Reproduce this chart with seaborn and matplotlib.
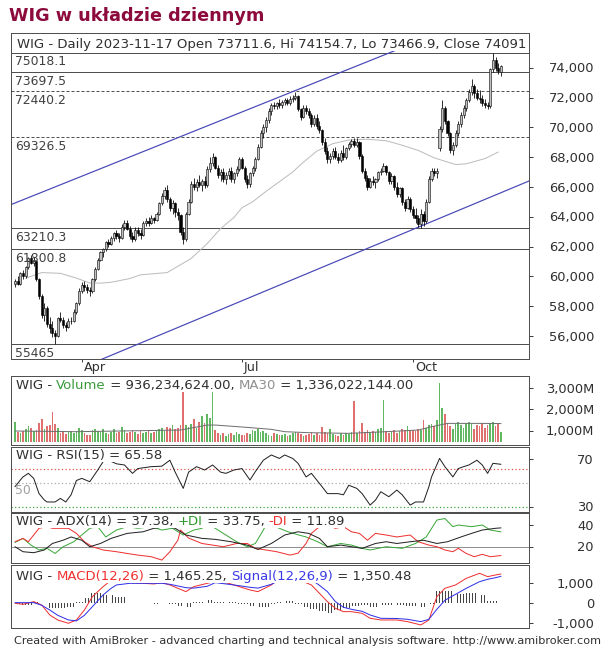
import numpy as np
import matplotlib
matplotlib.use("Agg")
import matplotlib.pyplot as plt
import seaborn as sns

W, H, DPI = 602, 654, 72

# ---------------- data ----------------
opens = [59500,59700,59500,60200,60000,60600,61200,60900,61000,59800,
         58700,57400,57900,56800,56500,56200,56000,57200,57100,56700,
         56600,57000,57000,57600,58200,59000,59400,59300,59100,59000,
         59800,60500,61100,61600,61800,62300,62200,62600,62900,62700,
         62600,63300,63600,63200,62700,62500,63100,62900,62800,63600,
         63700,63600,63900,63800,64200,64900,65400,65800,65200,64600,
         64900,64300,64100,63000,62500,64200,65000,66200,66000,66300,
         66100,66400,66100,67200,67600,68000,67300,66800,67000,66500,
         66800,67100,66500,66900,67200,67900,67300,66500,66200,66900,
         67300,67900,68700,69600,70000,70500,71100,71500,71400,71600,
         71500,71700,71800,71600,71900,72000,72100,71200,70700,71300,
         71100,70800,70200,70600,70100,69800,69000,68400,67900,68100,
         68400,68000,67800,68300,68000,68600,68900,69100,68800,69000,
         68100,67100,66600,66000,66400,66300,66500,67000,67100,67400,
         67000,66400,66700,66000,65500,65900,65000,64600,65200,64500,
         64100,63900,63500,64200,63700,65000,66500,67100,66900,68600,
         69900,71300,70400,69600,68500,68800,69600,70200,70800,71300,
         71800,72400,72800,72300,72000,71900,71600,71500,71400,73900,
         74500,74000,73711.6]
highs = [59800,60000,60300,60400,60700,61300,61400,61300,61100,59900,
         58800,58200,58000,57300,57000,56400,57300,57600,57300,56900,
         57200,57300,57800,58300,59200,59600,59700,59500,59300,59900,
         60600,61200,61700,61900,62400,62500,62700,63000,63100,62900,
         63500,63800,63750,63400,63000,63300,63300,63200,63700,63900,
         64000,64100,64000,64300,65000,65600,66000,66100,65300,65100,
         65000,64600,64200,63300,64300,65200,66400,66600,66500,66800,
         66500,66700,67400,68000,68300,68100,67500,67200,67300,67000,
         67300,67350,67000,67400,68000,68000,67400,66800,67000,67400,
         68000,68900,69800,70200,70700,71300,71600,71700,71700,71900,
         71800,72000,72000,72100,72200,72350,72200,71300,71500,71500,
         71300,70950,70800,70900,70400,69900,69300,68700,68300,68600,
         68700,68300,68500,68800,68700,69000,69200,69300,69300,69100,
         68200,67300,66800,66600,66700,66600,67100,67300,67600,67500,
         67100,66900,66800,66300,66000,66000,65200,65400,65350,64700,
         64600,64100,64500,64400,65200,66700,67300,67300,67300,70100,
         71800,71400,70500,69700,69000,69800,70400,71000,71500,72000,
         72600,73250,72900,72600,72500,72200,71900,71700,74000,75018.1,
         74700,74300,74154.7]
lows = [59300,59400,59400,59800,59900,60500,60800,60700,59700,58500,
        57200,57000,56600,56200,55900,55465,55900,56900,56500,56300,
        56500,56800,56900,57500,58100,58900,59000,58900,58700,58900,
        59700,60400,61000,61300,61700,62000,62100,62400,62500,62300,
        62500,63100,63100,62500,62300,62400,62700,62500,62700,63400,
        63400,63500,63600,63700,64100,64800,65200,65000,64400,64200,
        64000,63800,62800,62200,62400,64100,64900,65800,65700,66000,
        65700,65900,66000,67000,67400,67200,66600,66400,66300,66200,
        66500,66300,66250,66700,67100,67200,66300,65900,66000,66700,
        67100,67800,68600,69300,69700,70300,70800,71200,71200,71300,
        71300,71500,71500,71500,71700,71800,71100,70500,70600,70900,
        70600,70000,70100,69900,69600,68800,68200,67600,67600,67900,
        67900,67600,67700,67800,67900,68500,68700,68700,68700,67900,
        66900,66400,65800,65900,66100,65900,66400,66800,67000,66800,
        66200,66200,65800,65300,65300,64800,64400,64500,64300,63900,
        63600,63300,63210.3,63400,63600,64900,66400,66700,66600,68400,
        69700,70200,69400,68300,68150,68700,69400,70000,70600,71100,
        71700,72200,72000,71800,71600,71400,71300,71200,71300,73700,
        73800,73600,73466.9]
closes = [59700,59500,60200,60000,60600,61200,60900,61100,59800,58700,
          57400,57900,56800,56500,56200,56000,57200,57100,56700,56600,
          57000,57000,57600,58200,59000,59400,59300,59100,59000,59800,
          60500,61100,61600,61800,62300,62200,62600,62900,62700,62600,
          63300,63600,63200,62700,62500,63100,62900,62800,63600,63700,
          63600,63900,63800,64200,64900,65400,65800,65200,64600,64900,
          64300,64100,63000,62500,64200,65000,66200,66000,66300,66100,
          66400,66100,67200,67600,68000,67300,66800,67000,66500,66800,
          67100,66500,66900,67200,67900,67300,66500,66200,66900,67300,
          67900,68700,69600,70000,70500,71100,71500,71400,71600,71500,
          71700,71800,71600,71900,72000,72100,71200,70700,71300,71100,
          70800,70200,70600,70100,69800,69000,68400,67900,68100,68400,
          68000,67800,68300,68000,68600,68900,69100,68800,69000,68100,
          67100,66600,66000,66400,66300,66500,67000,67100,67400,67000,
          66400,66700,66000,65500,65900,65000,64600,65200,64500,64100,
          63900,63500,64200,63700,65000,66500,67100,66900,67100,69900,
          71300,70400,69600,68500,68800,69600,70200,70800,71300,71800,
          72400,72800,72300,72000,71900,71600,71500,71400,73900,74500,
          74000,73800,74091]
volume_m = [1390,950,880,1000,1080,1200,1150,980,1050,1350,
            1530,1100,1200,1250,1900,1300,1120,900,1000,850,
            920,980,870,1000,1150,1050,900,820,780,1050,
            1100,1000,920,1080,900,850,960,1100,880,940,
            1190,1020,880,930,1050,960,830,1000,880,920,
            1000,890,950,1030,1100,1150,1000,1180,1120,1270,
            1080,1150,1270,2880,1250,1180,1300,1530,1150,1400,
            1700,1350,1800,1600,2870,1050,880,820,900,760,
            850,900,800,950,860,780,820,900,850,1050,
            980,1100,920,1000,870,820,760,900,850,800,
            780,860,740,820,900,950,880,830,760,800,
            850,920,780,880,820,1190,940,880,1100,850,
            800,760,880,820,900,860,950,2400,880,1000,
            1340,950,1050,880,1000,920,1100,1150,2470,1000,
            880,950,1050,900,980,1100,1050,1200,980,1050,
            1000,1100,1050,1500,1150,1250,1300,1200,1500,3240,
            2050,1810,1340,1200,1100,1300,1400,1250,1150,1350,
            1420,1300,1100,1250,1200,1380,1150,1250,1380,1400,
            1200,1350,936]

month_ticks = [25, 85, 149]
month_labels = ["Apr", "Jul", "Oct"]

levels = [75018.1, 73697.5, 72440.2, 69326.5, 63210.3, 61800.8, 55465]
level_labels = ["75018.1", "73697.5", "72440.2", "69326.5", "63210.3", "61800.8", "55465"]
level_dashed = [False, False, True, True, False, False, False]

ma_idx = [4,10,17,23,28,32,36,43,47,57,66,72,77,82,85,89,94,104,107,113,119,125,132,139,144,151,157,165,169,176,181]
ma_val = [59870,60250,60200,59880,59550,59540,59600,59850,60100,60250,61200,62200,63200,63950,64600,
          65000,65700,67000,67500,68400,68900,69150,69200,69100,68850,68450,67950,67500,67550,67900,68340]

upper_chan_idx = [-1.5, 143.8]
upper_chan_val = [64812, 75255]
lower_chan_idx = [32.0, 192.5]
lower_chan_val = [54397, 66396]

vma_idx = [0, 23, 62, 72, 75, 87, 96, 101, 110, 125, 139, 151, 156, 162, 175, 182]
vma_val = [985, 953, 1031, 1266, 1266, 1156, 1063, 953, 906, 875, 953, 1031, 1188, 1344, 1344, 1336]

rsi_idx = [0,2,3,5,7,9,11,12,15,17,19,21,23,25,28,31,33,35,38,41,44,46,51,55,58,60,63,65,68,71,
           74,77,79,82,85,88,90,93,96,99,101,104,106,109,111,113,115,117,121,123,125,128,130,133,135,
           137,140,143,145,148,150,153,155,156,159,161,164,166,168,170,173,175,177,179,182]
rsi_val = [46.8,52.4,55,58,53.8,41,35.6,34,34,37,34,40,52,53.8,51,60.8,67.8,69,66,65,58,62,63.6,64,69,
           59,45.4,59,63.6,60.8,65,59,58,60.8,62,52.4,59.4,69,73.4,70.5,73.4,70.5,66.4,55,58,52.4,46.8,
           41,41,40,48,45.4,41,31.4,35.6,42.6,38.4,44,40,31.4,34,34,46.8,55,70.5,63.6,55,62,63.6,65,69,
           65,58,66.4,65.58]

adx_idx = [0,3,7,11,14,18,21,25,28,32,36,42,48,52,57,60,64,70,75,81,87,91,96,101,106,110,114,117,122,
           126,130,135,139,143,148,153,158,162,167,171,175,180,182]
adx_val = [20,15.4,14.5,17,23,26,29,26,20,23,27.7,32.3,33.8,37,38.5,37,30.8,27.7,26.8,24.6,21.5,17.5,
           23,30.8,33.8,32.3,27.7,20,21.5,20,18.5,23,24.6,23,24.6,26,23,24.6,29,32.3,35.4,37,37.38]
pdi_idx = [0,3,6,9,12,15,18,22,25,28,31,34,38,42,46,51,55,59,63,67,70,72,75,79,83,87,90,93,94,98,102,
           106,109,113,117,122,126,130,133,139,145,150,154,158,161,164,166,171,175,178,182]
pdi_val = [24,27.7,21.5,17,18.5,13.8,20,24.6,30.8,37,38.5,29,35.4,38.5,37,38.5,35.4,37,30.8,35.4,37,
           41.5,37,30.8,24.6,20,23,35.4,40,38,34,31,29,25,20,23,21.5,18.5,17,20,18.5,23,29,44.6,46,38.5,
           40,38.5,40,35.4,33.75]
mdi_idx = [0,3,5,9,12,14,20,23,26,29,33,38,42,46,51,55,58,61,62,65,70,74,78,83,87,90,94,98,103,106,
           109,111,114,117,120,123,126,129,132,135,139,143,148,151,155,158,161,164,166,169,172,175,178,182]
mdi_val = [24.6,27.7,24.6,37,38.5,37,37,32.3,24.6,20,17,15.4,13.8,12.3,10.8,7.7,15.4,26,35.4,28,23,21.5,
           20,23,23,18.5,17,15.4,12.3,14,23,32.3,38.5,40,37,38.5,33.8,32.3,26,32.3,30.8,29,30.8,24.6,
           21.5,20,17,15.4,18.5,13.8,10.8,13,10.8,11.89]

macd_idx = [0,3,7,10,13,16,20,23,26,29,33,36,38,43,48,52,55,58,61,64,67,72,75,80,84,88,91,96,98,101,
            105,108,111,114,117,120,123,126,130,133,137,143,147,152,155,158,161,165,169,174,177,180,182]
macd_val = [0,-50,83,-83,-583,-833,-1000,-833,-333,333,833,1150,1250,1033,1000,967,1033,917,750,583,
            833,1000,1083,1000,833,667,583,917,1167,1300,1250,1083,917,500,83,-250,-417,-417,-500,-750,
            -833,-833,-917,-1083,-833,333,750,917,1250,1500,1333,1417,1465.25]
signal_val = [33,33,33,-100,-333,-600,-833,-880,-600,-167,417,750,917,1000,1000,1000,1000,950,867,780,
              760,850,1033,950,880,800,760,950,1083,1200,1300,1250,1180,900,583,83,-200,-300,-400,-583,
              -750,-760,-800,-917,-800,-300,150,450,750,1083,1200,1280,1350.48]

price_ticks = [56000, 58000, 60000, 62000, 64000, 66000, 68000, 70000, 72000, 74000]
vol_ticks = [1000, 2000, 3000]
rsi_ticks = [30, 70]
adx_ticks = [20, 40]
macd_ticks = [-1000, 0, 1000]

# ---------------- style ----------------
sns.set_theme(style="white")
plt.rcParams["font.family"] = ["DejaVu Sans"]
plt.rcParams["hatch.linewidth"] = 1.0

fig = plt.figure(figsize=(W / DPI, H / DPI), dpi=DPI, facecolor="white")
renderer = fig.canvas.get_renderer()


def rect(l, t, r, b):
    return [l / W, 1 - b / H, (r - l) / W, (b - t) / H]


def twidth(s, fs, weight="normal"):
    if not s:
        return 0.0
    a = fig.text(0, 0, s + "|", fontsize=fs, fontweight=weight)
    b = fig.text(0, 0, "|", fontsize=fs, fontweight=weight)
    w = a.get_window_extent(renderer).width - b.get_window_extent(renderer).width
    a.remove()
    b.remove()
    return w


def fit(s, target, weight="normal"):
    return 10.0 * target / twidth(s, 10.0, weight)


def ptext(x, yc, s, fs, color, weight="normal", ha="left", bg=None):
    kw = {}
    if bg:
        kw["bbox"] = dict(facecolor=bg, edgecolor="none", pad=0.0)
    return fig.text(x / W, 1 - (yc + 0.36 * fs) / H, s, fontsize=fs, color=color,
                    fontweight=weight, ha=ha, va="baseline", zorder=10, **kw)


def parts_text(x, yc, parts, fs, bg="white"):
    prefix = ""
    for s, col in parts:
        ptext(x + twidth(prefix, fs), yc, s, fs, col, bg=bg)
        prefix += s


XL = (-1.5, 192.5)
L, R = 11, 529
ax_p = fig.add_axes(rect(L, 33.3, R, 359.3))
ax_v = fig.add_axes(rect(L, 376, R, 445))
ax_r = fig.add_axes(rect(L, 446.5, R, 512))
ax_a = fig.add_axes(rect(L, 513, R, 563))
ax_m = fig.add_axes(rect(L, 565, R, 628))
axes = [ax_p, ax_v, ax_r, ax_a, ax_m]

o = np.array(opens, float)
h = np.array(highs, float)
lo = np.array(lows, float)
c = np.array(closes, float)
idx = np.arange(len(c))
up = c >= o

# ---- price panel ----
for v, dashed in zip(levels, level_dashed):
    ax_p.axhline(v, color="#505050", lw=1.0, ls=(0, (3, 2)) if dashed else "-", zorder=1)
sns.lineplot(x=ma_idx, y=ma_val, ax=ax_p, color="#bcbcbc", linewidth=1.0, estimator=None, sort=False, zorder=2)
sns.lineplot(x=upper_chan_idx, y=upper_chan_val, ax=ax_p, color="#4848b8", linewidth=1.2, estimator=None, zorder=2)
sns.lineplot(x=lower_chan_idx, y=lower_chan_val, ax=ax_p, color="#4848b8", linewidth=1.2, estimator=None, zorder=2)
ax_p.vlines(idx, lo, h, color="black", lw=0.8, zorder=3)
ax_p.bar(idx[up], (c - o)[up], bottom=o[up], width=0.8, color="#c0c0c0", edgecolor="black", linewidth=0.55, zorder=4)
ax_p.bar(idx[~up], (o - c)[~up], bottom=c[~up], width=0.8, color="black", edgecolor="black", linewidth=0.55, zorder=4)
ax_p.set_ylim(54430, 76309)

# ---- volume panel ----
vol = np.array(volume_m, float)
vcol = np.where(up, "#62b862", "#e07070")
vbase = 467
ax_v.bar(idx, vol - vbase, bottom=vbase, width=0.62, color=vcol, linewidth=0, zorder=2)
sns.lineplot(x=vma_idx, y=vma_val, ax=ax_v, color="#707070", linewidth=1.0, estimator=None, sort=False, zorder=3)
ax_v.set_ylim(325, 3580)

# ---- RSI ----
ax_r.axhline(62, color="#e04848", lw=1.2, ls=(0, (1, 2)), zorder=1)
ax_r.axhline(50, color="#a8a8a8", lw=1.2, ls=(0, (1, 2)), zorder=1)
ax_r.axhline(30, color="#30a030", lw=1.2, ls=(0, (1, 2)), zorder=1)
sns.lineplot(x=rsi_idx, y=rsi_val, ax=ax_r, color="#222222", linewidth=1.0, estimator=None, sort=False, zorder=3)
ax_r.set_ylim(25.6, 80.5)

# ---- ADX ----
ax_a.axhline(20, color="#909090", lw=1.0, zorder=1)
sns.lineplot(x=pdi_idx, y=pdi_val, ax=ax_a, color="#3aa83a", linewidth=1.0, estimator=None, sort=False, zorder=2)
sns.lineplot(x=mdi_idx, y=mdi_val, ax=ax_a, color="#ee3030", linewidth=1.0, estimator=None, sort=False, zorder=2)
sns.lineplot(x=adx_idx, y=adx_val, ax=ax_a, color="#222222", linewidth=1.0, estimator=None, sort=False, zorder=3)
ax_a.set_ylim(5.0, 51.1)

# ---- MACD ----
hist = np.array(macd_val) - np.array(signal_val)
hx = np.array(macd_idx, float)
hw = np.diff(np.append(hx, hx[-1] + 1.0))
ax_m.bar(hx - 0.4, hist, width=hw * 0.9, align="edge", facecolor="none", edgecolor="#454545",
         hatch="||||", linewidth=0, zorder=1)
sns.lineplot(x=macd_idx, y=macd_val, ax=ax_m, color="#f03030", linewidth=1.0, estimator=None, sort=False, zorder=2)
sns.lineplot(x=macd_idx, y=signal_val, ax=ax_m, color="#3030e8", linewidth=1.0, estimator=None, sort=False, zorder=3)
ax_m.set_ylim(-1235, 1915)

tick_sets = [price_ticks, vol_ticks, rsi_ticks, adx_ticks, macd_ticks]
for ax, tv in zip(axes, tick_sets):
    ax.set_xlim(*XL)
    ax.set_xlabel("")
    ax.set_ylabel("")
    ax.set_facecolor("white")
    for s in ax.spines.values():
        s.set_color("#505050")
        s.set_linewidth(1.0)
    ax.yaxis.tick_right()
    ax.set_yticks(tv)
    ax.tick_params(axis="y", which="both", right=True, left=False, length=4, width=1,
                   color="#404040", direction="out", labelright=False, labelleft=False)
    ax.set_xticks([])
    ax.grid(False)

ax_p.set_xticks(month_ticks)
ax_p.tick_params(axis="x", bottom=True, length=3, width=1, color="#404040", direction="out", labelbottom=False)

# ---------------- texts ----------------
TXT = "#303030"
fs_tick = fit("74,000", 45)


def right_labels(ax, vals, labels):
    for v, lab in zip(vals, labels):
        yd = ax.transData.transform((0, v))[1]
        ptext(594, H - yd, lab, fs_tick, TXT, ha="right")


right_labels(ax_p, price_ticks, [f"{v:,}" for v in price_ticks])
right_labels(ax_v, vol_ticks, [f"{v:,}M" for v in vol_ticks])
right_labels(ax_r, rsi_ticks, [str(v) for v in rsi_ticks])
right_labels(ax_a, adx_ticks, [str(v) for v in adx_ticks])
right_labels(ax_m, macd_ticks, [f"{v:,}" for v in macd_ticks])

fs_lvl = fit("75018.1", 51)
for v, lab in zip(levels, level_labels):
    yd = ax_p.transData.transform((0, v))[1]
    ptext(15, H - yd + 8.5, lab, fs_lvl, "#404040")

fs_mon = fit("Apr", 22)
for i, lab in zip(month_ticks, month_labels):
    xd = ax_p.transData.transform((i, 0))[0]
    ptext(xd + 2, 366, lab, fs_mon, TXT)

ptext(15, 490, "50", fs_lvl, "#a0a0a0")

# title
title = "WIG w układzie dziennym"
fs_title = fit(title, 255, "bold")
ptext(9, 15, title, fs_title, "#8c0a3c", weight="bold")

# panel headers
hdr_main = "WIG - Daily 2023-11-17 Open 73711.6, Hi 74154.7, Lo 73466.9, Close 74091"
fs_h = fit(hdr_main, 506)
parts_text(17, 43, [(hdr_main, TXT)], fs_h)
parts_text(16, 384, [("WIG - ", TXT), ("Volume", "#3a9a3a"), (" = 936,234,624.00, ", TXT),
                     ("MA30", "#909090"), (" = 1,336,022,144.00", TXT)], fs_h)
parts_text(16, 454, [("WIG - RSI(15) = 65.58", TXT)], fs_h)
parts_text(16, 520, [("WIG - ADX(14) = 37.38, ", TXT), ("+DI", "#2e9a2e"), (" = 33.75, ", TXT),
                     ("-DI", "#ee3030"), (" = 11.89", TXT)], fs_h)
parts_text(16, 575, [("WIG - ", TXT), ("MACD(12,26)", "#f03030"), (" = 1,465.25, ", TXT),
                     ("Signal(12,26,9)", "#3a3ae8"), (" = 1,350.48", TXT)], fs_h)

footer = "Created with AmiBroker - advanced charting and technical analysis software. http://www.amibroker.com"
fs_f = fit(footer, 583)
ptext(14, 640, footer, fs_f, TXT)

fig.savefig("out.png", dpi=DPI, facecolor="white")
